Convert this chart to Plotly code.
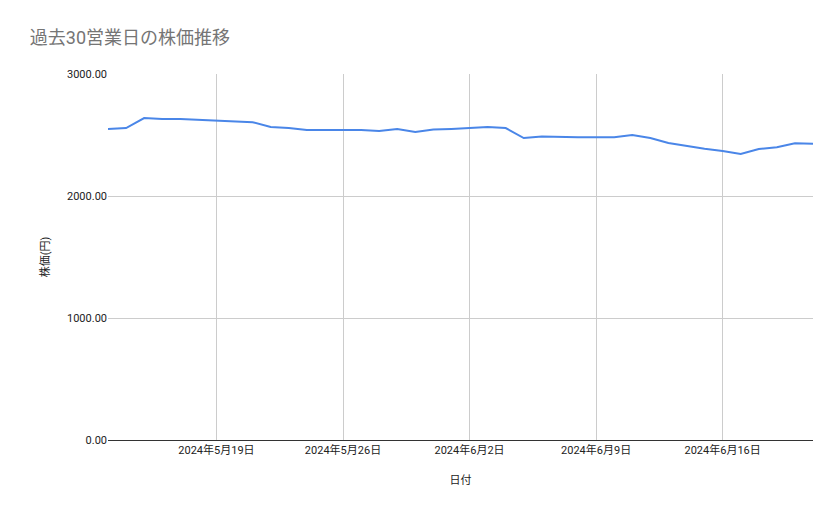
import plotly.graph_objects as go
import pandas as pd

dates = pd.date_range("2024-05-13", "2024-06-21", freq="D")
prices = [2549, 2557, 2639, 2631, 2631, 2623, 2615, 2607, 2605, 2566, 2557, 2541, 2541, 2541,
          2541, 2533, 2549, 2525, 2545, 2550, 2557, 2566, 2557, 2475, 2488, 2482, 2482, 2482,
          2482, 2500, 2475, 2434, 2410, 2388, 2369, 2344, 2385, 2400, 2432, 2428]
tick_dates = ["2024-05-19", "2024-05-26", "2024-06-02", "2024-06-09", "2024-06-16"]
tick_labels = ["2024年5月19日", "2024年5月26日", "2024年6月2日", "2024年6月9日", "2024年6月16日"]
y_ticks = [0, 1000, 2000, 3000]

font = "Roboto, 'Noto Sans CJK JP', sans-serif"
fig = go.Figure(go.Scatter(x=dates, y=prices, mode="lines",
                           line=dict(color="#4a86e8", width=2)))
fig.update_layout(
    width=839, height=519, paper_bgcolor="white", plot_bgcolor="white",
    margin=dict(l=100, r=34, t=66, b=87), showlegend=False,
    font=dict(family=font, size=11, color="#222"),
    title=dict(text="過去30営業日の株価推移", x=0.026, y=0.955, xanchor="left",
               font=dict(size=18, color="#757575", family=font)),
    xaxis=dict(range=[dates[0], dates[-1]], tickvals=tick_dates, ticktext=tick_labels,
               showgrid=True, gridcolor="#cccccc", showline=True, linecolor="#333",
               title=dict(text="日付", font=dict(size=11), standoff=20), ticks=""),
    yaxis=dict(range=[0, 3000], tickvals=y_ticks, tickformat=".2f",
               showgrid=True, gridcolor="#cccccc", zeroline=False, ticks="",
               title=dict(text="株価(円)", font=dict(size=11))),
)
fig.write_html("out.html")
